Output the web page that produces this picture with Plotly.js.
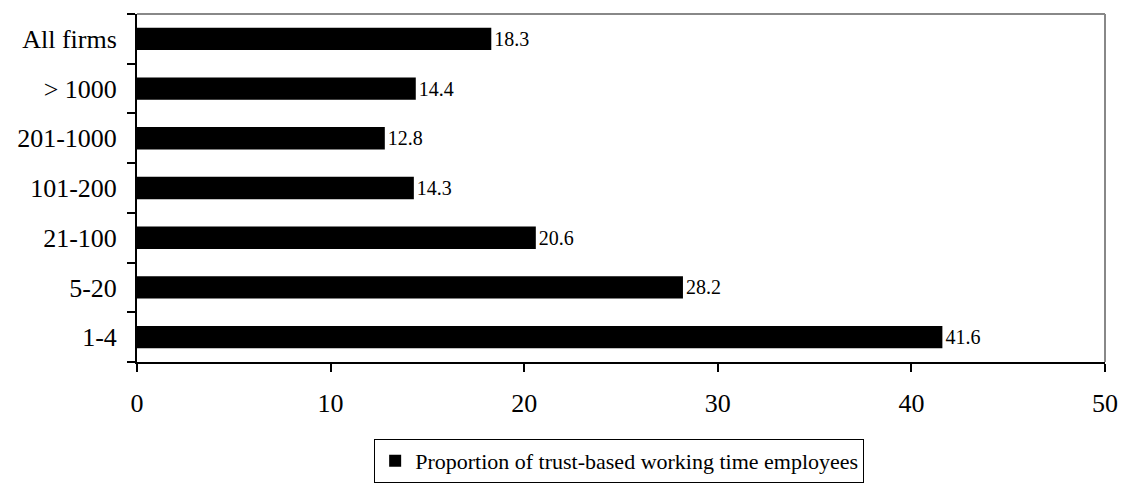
<!DOCTYPE html>
<html><head><meta charset="utf-8">
<script src="https://cdn.plot.ly/plotly-3.0.1.min.js"></script>
<style>body{margin:0;background:#fff}#c{width:1123px;height:485px}</style>
</head><body><div id="c"></div>
<script>
const categories = ["1-4", "5-20", "21-100", "101-200", "201-1000", "> 1000", "All firms"];
const values = [41.6, 28.2, 20.6, 14.3, 12.8, 14.4, 18.3];
const seriesName = "Proportion of trust-based working time employees";
const xTicks = [0, 10, 20, 30, 40, 50];

const trace = {
  type: "bar", orientation: "h",
  y: categories, x: values, name: seriesName,
  marker: {color: "#000", line: {color: "#000", width: 0}},
  text: values.map(v => v.toFixed(1)), textposition: "outside",
  textfont: {family: "Liberation Serif", size: 20, color: "#000"},
  cliponaxis: false, width: 0.45
};
const layout = {
  width: 1123, height: 485,
  margin: {l: 137, r: 18, t: 14, b: 123, autoexpand: false},
  paper_bgcolor: "#fff", plot_bgcolor: "#fff",
  font: {family: "Liberation Serif", color: "#000"},
  showlegend: true,
  legend: {orientation: "h", xref: "paper", x: 0.245, xanchor: "left",
    yref: "container", y: 0.004, yanchor: "bottom",
    bordercolor: "#000", borderwidth: 1, font: {family: "Liberation Serif", size: 22, color: "#000"},
    itemwidth: 30, tracegroupgap: 0},
  xaxis: {range: [0, 50], tickvals: xTicks, ticks: "outside", ticklen: 8, tickwidth: 2,
    tickcolor: "#000", showline: true, linecolor: "#000", linewidth: 2, showgrid: false,
    zeroline: false, tickfont: {size: 26, family: "Liberation Serif", color: "#000"}, ticklabelstandoff: 9},
  yaxis: {type: "category", categoryorder: "array", categoryarray: categories,
    ticks: "outside", ticklen: 8, tickwidth: 2, tickcolor: "#000", tickson: "boundaries",
    showline: true, linecolor: "#000", linewidth: 2, showgrid: false,
    tickfont: {size: 26, family: "Liberation Serif", color: "#000"}, ticklabelstandoff: 13},
  shapes: [
    {type: "line", xref: "paper", yref: "paper", x0: 0, x1: 1, y0: 1, y1: 1, line: {color: "#888", width: 2}},
    {type: "line", xref: "paper", yref: "paper", x0: 1, x1: 1, y0: 0, y1: 1, line: {color: "#888", width: 2}}
  ]
};
Plotly.newPlot("c", [trace], layout, {displayModeBar: false, staticPlot: true});
</script></body></html>
